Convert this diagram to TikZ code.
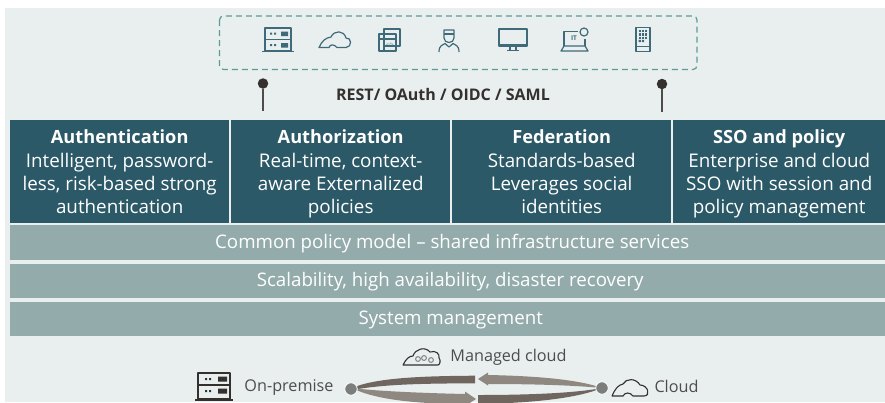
\documentclass[tikz,border=0pt]{standalone}
\usepackage{fontspec}
\setmainfont{Open Sans}
\usetikzlibrary{arrows.meta}
\definecolor{bgc}{HTML}{E9EFEF}
\definecolor{tealbox}{HTML}{2C5967}
\definecolor{barc}{HTML}{93ABAB}
\definecolor{dashc}{HTML}{5E9A96}
\definecolor{iconc}{HTML}{3F6A79}
\definecolor{darkc}{HTML}{33302E}
\definecolor{ringa}{HTML}{6F675F}
\definecolor{ringb}{HTML}{8F8881}
\definecolor{dotc}{HTML}{7C7E7E}
\newcommand{\hd}[1]{{\fontsize{18.2}{23.3}\selectfont\bfseries\rule{0pt}{19pt}#1}}
\newcommand{\lst}{\vphantom{Ag}}
\tikzset{
  x=1pt,y=-1pt,
  headbox/.style={fill=tealbox,text=white,minimum height=103pt,anchor=north west,inner sep=0pt,align=center,font=\fontsize{18.8}{23.3}\selectfont},
  barbox/.style={fill=barc,text=white,anchor=north west,inner sep=0pt,text height=15pt,text depth=3.5pt,font=\fontsize{18.7}{20}\selectfont},
  label/.style={text=darkc!85!bgc,font=\fontsize{16.2}{18}\selectfont,inner sep=0pt},
  ico/.style={draw=iconc,line width=1.2pt,line join=round,fill=none},
  darkico/.style={draw=darkc,line width=1.1pt,line join=round,fill=none},
  pin/.style={draw=darkc!85!bgc,line width=1.4pt},
  pindot/.style={circle,fill=darkc,minimum size=10.5pt,inner sep=0pt},
  enddot/.style={circle,fill=dotc,draw=white,line width=0.8pt,minimum size=12.5pt,inner sep=0pt},
}
\begin{document}
\begin{tikzpicture}
\useasboundingbox (0,0) rectangle (885,402);
\fill[white] (0,0) rectangle (885,402);
\fill[bgc] (5,8) rectangle (885,402);
% dashed client frame
\draw[dashc,line width=1.2pt,dash pattern=on 6pt off 4pt,rounded corners=4pt] (219.5,16) rectangle (697,69.5);
% server icon
\begin{scope}[shift={(265,28)}]
\draw[ico] (0,0) rectangle (26,23);
\draw[ico] (0,11.5) -- (26,11.5);
\draw[ico] (-3,23.5) -- (29,23.5);
\fill[iconc] (5,4.5) rectangle (7,6.5) (9,4.5) rectangle (11,6.5) (5,16) rectangle (7,18) (9,16) rectangle (11,18);
\fill[iconc] (16,3.5) rectangle (23,8) (16,15) rectangle (23,19.5);
\end{scope}
% cloud icon
\draw[ico] (319,47.5) .. controls (322,41) and (325,38) .. (331,37) .. controls (334,30) and (344,30) .. (346,38) .. controls (352,37) and (352,47.5) .. (346,47.5) -- (337,47.5) .. controls (334,44) and (330,44) .. (329,47.5) -- cycle;
% code window icon
\begin{scope}[shift={(379,28)}]
\draw[ico] (5,1) rectangle (21,18);
\draw[ico] (0,6) rectangle (17,23);
\draw[ico] (0,11) -- (17,11);
\draw[ico] (5,11) -- (5,23);
\node[inner sep=0pt,text=iconc,font=\fontsize{5}{5}\selectfont] (codetag) at (11,17) {</>};
\end{scope}
% person icon
\begin{scope}[shift={(439,29)}]
\draw[ico] (5,1) -- (15,1) -- (15,9) .. controls (15,15) and (5,15) .. (5,9) -- cycle;
\draw[ico] (5,5) -- (15,5);
\draw[ico] (0,23) .. controls (0,16) and (4,16) .. (6,14.5);
\draw[ico] (20,23) .. controls (20,16) and (16,16) .. (14,14.5);
\draw[ico] (6,14.5) -- (10,18) -- (14,14.5);
\end{scope}
% monitor icon
\begin{scope}[shift={(499,29)}]
\draw[ico] (0,0) rectangle (28,17);
\fill[iconc] (0,15) rectangle (28,17);
\draw[ico] (11,17) -- (11,21) (17,17) -- (17,21) (8,21.5) -- (20,21.5);
\end{scope}
% laptop IT icon
\begin{scope}[shift={(561,28)}]
\draw[ico] (17,3.5) -- (3,3.5) -- (3,18) (24,11) -- (24,18);
\draw[ico] (0,23) -- (3,18) -- (24,18) -- (27,23) -- cycle;
\draw[ico] (23,4) circle (4pt);
\node[inner sep=0pt,text=iconc,font=\fontsize{6.5}{6.5}\selectfont\bfseries] (ittag) at (13,10.5) {IT};
\end{scope}
% phone icon
\begin{scope}[shift={(636,27.5)}]
\draw[ico] (0,0) rectangle (14,24);
\draw[ico] (0,19) -- (14,19);
\foreach \i in {0,1,2}{\foreach \j in {0,1,2}{\fill[iconc] (2.5+3.3*\j,2.5+3.3*\i) rectangle +(2.3,2.3);}}
\fill[iconc] (2.5,12.4) rectangle +(2.3,2.3) (5.8,12.4) rectangle +(2.3,2.3);
\end{scope}
% pins
\node[pindot] (pl) at (263,83.5) {};
\coordinate (plb) at (263,111);
\draw[pin] (pl) -- (plb);
\node[pindot] (pr) at (662,84) {};
\coordinate (prb) at (662,112);
\draw[pin] (pr) -- (prb);
\node[text=darkc,font=\fontsize{16}{16}\selectfont\bfseries,inner sep=0pt] (proto) at (443,94) {REST/ OAuth / OIDC / SAML};
% head boxes
\node[headbox,minimum width=219pt] (auth) at (10,120) {\hd{Authentication}\\Intelligent, password-\\less, risk-based strong\\authentication\lst};
\node[headbox,minimum width=219pt] (authz) at (231,120) {\hd{Authorization}\\Real-time, context-\\aware Externalized\\policies\lst};
\node[headbox,minimum width=219pt] (fed) at (452,120) {\hd{Federation}\\Standards-based\\Leverages social\\identities\lst};
\node[headbox,minimum width=212pt] (sso) at (673,120) {\hd{SSO and policy}\\Enterprise and cloud\\SSO with session and\\policy management\lst};
% bars
\node[barbox,minimum width=875pt,minimum height=34.5pt] (b1) at (10,225) {\hspace*{9pt}Common policy model – shared infrastructure services};
\node[barbox,minimum width=875pt,minimum height=34pt] (b2) at (10,263.5) {\hspace*{5pt}Scalability, high availability, disaster recovery};
\node[barbox,minimum width=875pt,minimum height=33.5pt] (b3) at (10,302) {\hspace*{6pt}System management};
% bottom
\node[label] (mc) at (508.5,357) {Managed cloud};
\node[label] (op) at (289,387) {On-premise};
\node[label] (cl) at (676.5,386) {Cloud};
% managed cloud icon
\draw[darkico] (403,365) .. controls (406,359) and (409,356) .. (413,356) .. controls (415,349) and (425,346) .. (430,352) .. controls (436,350) and (440,354) .. (439,358) .. controls (441,360) and (440,365) .. (438,365) -- cycle;
\foreach \cx/\cy in {418/359,424/358,431/360}{\draw[draw=gray,line width=1pt] (\cx,\cy) circle (2.4pt);}
% cloud bottom
\draw[darkico] (612,396) .. controls (615,389) and (618,385) .. (623,384) .. controls (626,378) and (636,378) .. (640,385) .. controls (648,385) and (651,396) .. (644,396) -- (633,396) .. controls (630,392) and (625,392) .. (623,396) -- cycle;
% on-premise server icon
\begin{scope}[shift={(198,373)}]
\draw[darkico] (0,0) rectangle (32,12) (0,12) rectangle (32,26);
\draw[darkico] (-3,27) -- (35,27);
\fill[darkc] (7,5) rectangle (9,7) (11,5) rectangle (13,7) (7,17) rectangle (9,19) (11,17) rectangle (13,19);
\fill[darkc] (20,3.5) rectangle (29,8.5) (20,15.5) rectangle (29,20.5);
\end{scope}
% ring
\fill[ringa] (352,388) .. controls (375,378) and (420,376) .. (475,375.7) -- (475,383.3) .. controls (425,383.5) and (385,384) .. (352,390) -- cycle;
\fill[ringb] (602,388) .. controls (580,380) and (540,376) .. (488,375) -- (488,372.5) -- (478,379) -- (488,385.5) -- (488,384) .. controls (530,384) and (570,385) .. (602,388) -- cycle;
\fill[ringb] (352,388) .. controls (375,391) and (420,393) .. (465,394) -- (465,391.5) -- (476,399) -- (465,406) -- (465,404) .. controls (420,404) and (375,400) .. (352,388) -- cycle;
\fill[ringa] (602,388) .. controls (575,399) and (530,403) .. (478,404) -- (478,395) .. controls (530,395) and (575,393) .. (602,388) -- cycle;
\node[enddot] (dl) at (351,389) {};
\node[enddot] (dr) at (602,388) {};
\end{tikzpicture}
\end{document}
